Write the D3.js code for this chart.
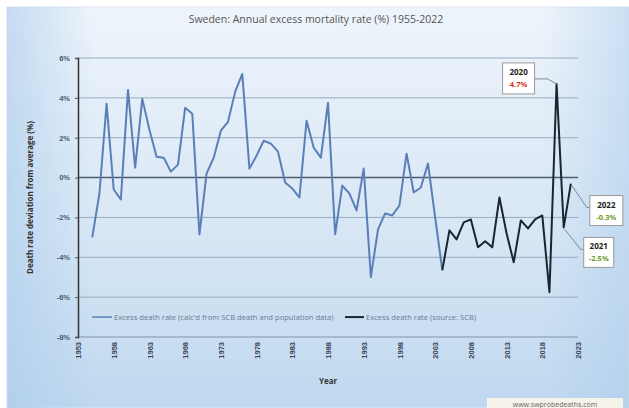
<!DOCTYPE html>
<html><head><meta charset="utf-8">
<script src="https://cdn.jsdelivr.net/npm/d3@7"></script>
<style>body{margin:0;background:#fff;}svg{display:block;font-family:"Open Sans",Lato,sans-serif;}</style>
</head><body><svg id="c" width="629" height="408"></svg>
<script>
const yearsCalc = d3.range(1955, 2005);
const valuesCalc = [-3.0,-0.8,3.7,-0.6,-1.1,4.4,0.5,3.95,2.4,1.05,1.0,0.3,0.65,3.5,3.2,-2.85,0.2,1.0,2.35,2.8,4.3,5.2,0.45,1.1,1.85,1.7,1.3,-0.25,-0.55,-1.0,2.85,1.5,1.0,3.75,-2.85,-0.4,-0.8,-1.65,0.45,-5.0,-2.6,-1.8,-1.9,-1.4,1.2,-0.75,-0.5,0.7,-2.0,-4.65];
const yearsSCB = d3.range(2004, 2023);
const valuesSCB = [-4.65,-2.65,-3.1,-2.25,-2.1,-3.5,-3.2,-3.5,-1.0,-2.8,-4.25,-2.15,-2.55,-2.1,-1.9,-5.75,4.7,-2.5,-0.3];
const yTicks = [6,4,2,0,-2,-4,-6,-8];
const xTicks = d3.range(1953, 2024, 5);
const seriesNames = ["Excess death rate (calc'd from SCB death and population data)", "Excess death rate (source: SCB)"];
const callouts = [{year:2020, label:"4.7%", color:"#e03020", dx:-22, dy:-21, bw:32, bh:31},
                  {year:2022, label:"-0.3%", color:"#6a9a2a", dx:19, dy:12, bw:33, bh:30},
                  {year:2021, label:"-2.5%", color:"#6a9a2a", dx:20, dy:10, bw:30, bh:30}];

const svg = d3.select("#c");
const defs = svg.append("defs");
const g1 = defs.append("linearGradient").attr("id","bg").attr("x1",0).attr("y1",0).attr("x2",0).attr("y2",1);
g1.append("stop").attr("offset","0%").attr("stop-color","#eef4fb");
g1.append("stop").attr("offset","55%").attr("stop-color","#d8e7f5");
g1.append("stop").attr("offset","100%").attr("stop-color","#bfd8ef");
const g2 = defs.append("linearGradient").attr("id","bgh").attr("x1",0).attr("y1",0).attr("x2",1).attr("y2",0);
g2.append("stop").attr("offset","0%").attr("stop-color","#a9cbec").attr("stop-opacity",0.6);
g2.append("stop").attr("offset","14%").attr("stop-color","#a9cbec").attr("stop-opacity",0);
g2.append("stop").attr("offset","86%").attr("stop-color","#a9cbec").attr("stop-opacity",0);
g2.append("stop").attr("offset","100%").attr("stop-color","#a9cbec").attr("stop-opacity",0.5);
svg.append("rect").attr("x",7).attr("y",7).attr("width",622).attr("height",401).attr("fill","url(#bg)").attr("stroke","#dde6ef");
svg.append("rect").attr("x",7).attr("y",7).attr("width",622).attr("height",401).attr("fill","url(#bgh)");

const x = d3.scaleLinear().domain([1953, 2023]).range([78, 578]);
const y = d3.scaleLinear().domain([-8, 6]).range([337, 58]);

// gridlines
svg.append("g").selectAll("line").data(yTicks.filter(v => v !== 0 && v !== -8)).join("line")
  .attr("x1", x(1953)).attr("x2", x(2023)).attr("y1", d => y(d)).attr("y2", d => y(d))
  .attr("stroke", "#9aabbd").attr("stroke-width", 1);
svg.append("line").attr("x1", x(1953)).attr("x2", x(2023)).attr("y1", y(-8)).attr("y2", y(-8))
  .attr("stroke", "#9aabbd").attr("stroke-width", 1.5);
svg.append("line").attr("x1", x(1953)).attr("x2", x(2023)).attr("y1", y(0)).attr("y2", y(0))
  .attr("stroke", "#4d5d6e").attr("stroke-width", 1.5);

// y axis
const yAxis = svg.append("g").attr("transform", `translate(${x(1953)},0)`)
  .call(d3.axisLeft(y).tickValues(yTicks).tickFormat(d => d + "%").tickSize(3));
yAxis.select(".domain").attr("stroke", "#333").attr("stroke-width", 1.5);
yAxis.selectAll(".tick line").attr("stroke", "#555");
yAxis.selectAll("text").attr("font-size", 7.5).attr("font-weight", "bold").attr("fill", "#4a5a70").attr("x", -8);

// x axis
const xAxis = svg.append("g").attr("transform", `translate(0,${y(-8)})`)
  .call(d3.axisBottom(x).tickValues(xTicks).tickFormat(d3.format("d")).tickSize(0));
xAxis.select(".domain").remove();
xAxis.selectAll("text").attr("font-size", 7.5).attr("font-weight", "bold").attr("fill", "#3a4658")
  .attr("transform", "rotate(-90)").attr("text-anchor", "end").attr("x", -5).attr("y", 0).attr("dy", "0.35em");

// titles
svg.append("text").attr("x", 316).attr("y", 23).attr("text-anchor", "middle").attr("font-size", 10.5)
  .attr("fill", "#555").text("Sweden: Annual excess mortality rate (%) 1955-2022");
svg.append("text").attr("transform", `translate(33,${y(-1)}) rotate(-90)`).attr("text-anchor", "middle")
  .attr("font-size", 8).attr("font-weight", "bold").attr("fill", "#333").text("Death rate deviation from average (%)");
svg.append("text").attr("x", 328).attr("y", 384).attr("text-anchor", "middle").attr("font-size", 8)
  .attr("font-weight", "bold").attr("fill", "#333").text("Year");

// lines
const line = d3.line().x(d => x(d[0])).y(d => y(d[1]));
svg.append("path").datum(d3.zip(yearsCalc, valuesCalc)).attr("d", line).attr("fill", "none")
  .attr("stroke", "#5a7fb8").attr("stroke-width", 2).attr("stroke-linejoin", "round");
svg.append("path").datum(d3.zip(yearsSCB, valuesSCB)).attr("d", line).attr("fill", "none")
  .attr("stroke", "#1b2530").attr("stroke-width", 2).attr("stroke-linejoin", "round");

// legend
const leg = svg.append("g").attr("transform", `translate(92,${y(-7)})`);
leg.append("line").attr("x1", 0).attr("x2", 20).attr("stroke", "#5a7fb8").attr("stroke-width", 1.5);
leg.append("text").attr("x", 22).attr("dy", "0.35em").attr("font-size", 7.6).attr("fill", "#6a7a90").text(seriesNames[0]);
leg.append("line").attr("x1", 253).attr("x2", 272).attr("stroke", "#1b2530").attr("stroke-width", 2);
leg.append("text").attr("x", 274).attr("dy", "0.35em").attr("font-size", 7.6).attr("fill", "#6a7a90").text(seriesNames[1]);

// callouts
callouts.forEach(c => {
  const i = yearsSCB.indexOf(c.year);
  const px = x(c.year), py = y(valuesSCB[i]);
  let bx, by;
  if (c.dx < 0) { bx = px + c.dx - c.bw; by = py + c.dy; }
  else { bx = px + c.dx; by = py + c.dy; }
  const ax = c.dx < 0 ? bx + c.bw : bx, ay = c.dx < 0 ? by + 16 : by + 12;
  svg.append("polyline").attr("points", c.dx < 0 ? `${px},${py} ${px-9},${ay} ${ax},${ay}` : `${px+1},${py+2} ${ax-3},${ay} ${ax},${ay}`)
    .attr("fill", "none").attr("stroke", "#7a8a9a").attr("stroke-width", 1);
  svg.append("rect").attr("x", bx).attr("y", by).attr("width", c.bw).attr("height", c.bh)
    .attr("fill", "#fff").attr("stroke", "#999").attr("stroke-width", 1);
  svg.append("text").attr("x", bx + c.bw/2).attr("y", by + 12).attr("text-anchor", "middle")
    .attr("font-size", 8).attr("font-weight", "bold").attr("fill", "#222").text(c.year);
  svg.append("text").attr("x", bx + c.bw/2).attr("y", by + 24).attr("text-anchor", "middle")
    .attr("font-size", 7.5).attr("font-weight", "bold").attr("fill", c.color).text(c.label);
});

// watermark
svg.append("rect").attr("x", 487).attr("y", 398).attr("width", 136).attr("height", 10).attr("fill", "#f6f3ea");
svg.append("text").attr("x", 555).attr("y", 407).attr("text-anchor", "middle").attr("font-size", 7)
  .attr("fill", "#666").text("www.swprobedeaths.com");
</script></body></html>
